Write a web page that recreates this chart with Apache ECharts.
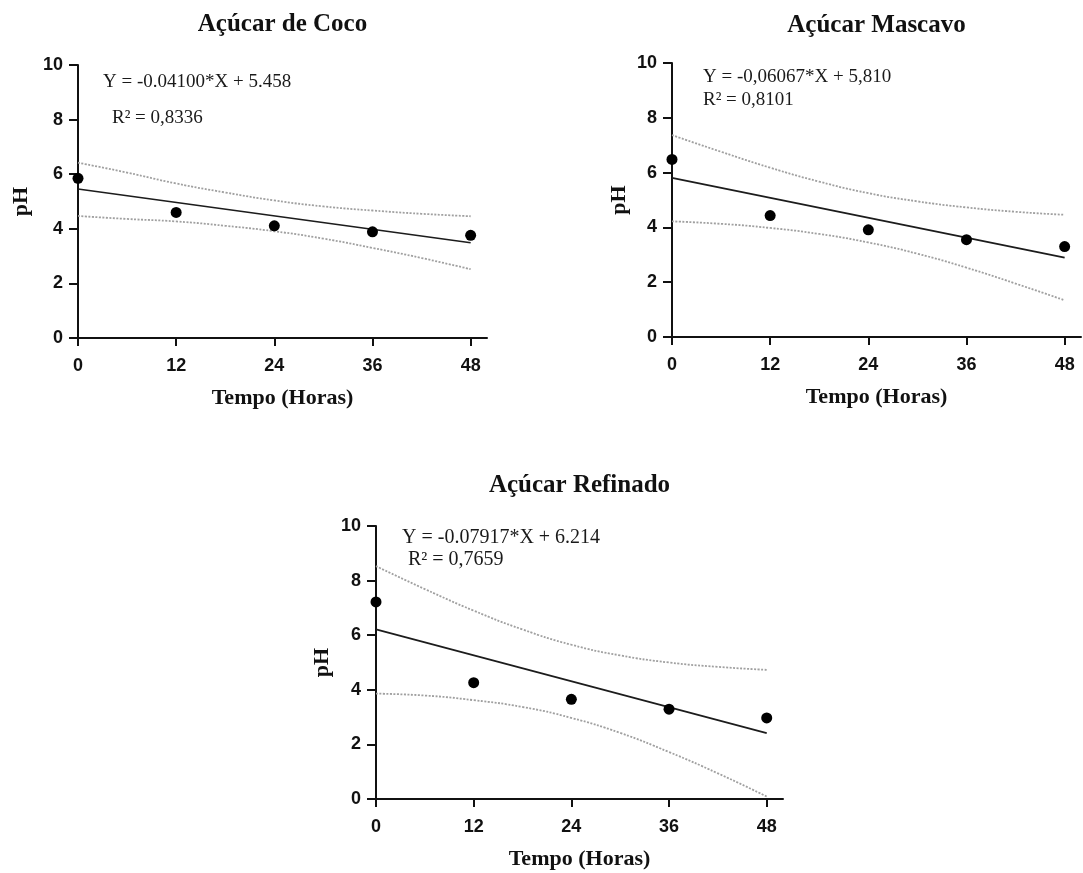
<!DOCTYPE html>
<html>
<head>
<meta charset="utf-8">
<title>pH ao longo do tempo</title>
<script src="https://cdn.jsdelivr.net/npm/echarts@6/dist/echarts.min.js"></script>
<style>
  html, body { margin: 0; padding: 0; background: #fff; }
  #chart { width: 1083px; height: 873px; }
</style>
</head>
<body>
<div id="chart"></div>
<script>
// Sampling times (hours) and axis ticks
const hours = [0, 12, 24, 36, 48];
const bandHours = [0, 6, 12, 18, 24, 30, 36, 42, 48];
const xTicks = [0, 12, 24, 36, 48];

// Mean pH per sugar type
const phCoco = [5.85, 4.60, 4.11, 3.89, 3.76];
const phMascavo = [6.48, 4.43, 3.91, 3.55, 3.30];
const phRefinado = [7.22, 4.26, 3.65, 3.29, 2.97];

// 95% confidence band of each regression, at bandHours
const upperCoco = [6.42, 6.06, 5.66, 5.33, 5.04, 4.82, 4.67, 4.55, 4.46];
const lowerCoco = [4.47, 4.36, 4.27, 4.11, 3.91, 3.64, 3.30, 2.93, 2.52];
const upperMascavo = [7.37, 6.76, 6.18, 5.67, 5.25, 4.95, 4.73, 4.57, 4.46];
const lowerMascavo = [4.22, 4.13, 3.98, 3.76, 3.45, 3.04, 2.53, 1.95, 1.34];
const upperRefinado = [8.53, 7.69, 6.90, 6.21, 5.65, 5.26, 5.00, 4.84, 4.73];
const lowerRefinado = [3.86, 3.79, 3.62, 3.37, 2.97, 2.42, 1.72, 0.94, 0.09];

// Linear fits (slope, intercept) and their printed equations
const fitSlopes = [-0.04100, -0.06067, -0.07917];
const fitIntercepts = [5.458, 5.810, 6.214];
const eqLabels = ['Y = -0.04100*X + 5.458', 'Y = -0,06067*X + 5,810', 'Y = -0.07917*X + 6.214'];
const r2Labels = ['R\u00B2 = 0,8336', 'R\u00B2 = 0,8101', 'R\u00B2 = 0,7659'];

const panelTitles = ['Açúcar de Coco', 'Açúcar Mascavo', 'Açúcar Refinado'];
const xAxisTitle = 'Tempo (Horas)';
const yAxisTitle = 'pH';

const phSets = [phCoco, phMascavo, phRefinado];
const upperSets = [upperCoco, upperMascavo, upperRefinado];
const lowerSets = [lowerCoco, lowerMascavo, lowerRefinado];

// Panel layout (pixels)
const grids = [
  { left: 78, top: 65, width: 409, height: 273 },
  { left: 672, top: 63, width: 409, height: 274 },
  { left: 376, top: 526, width: 407, height: 273 }
];
const titleY = [25, 26, 486];
const yNameGaps = [46, 42, 43];
const eqPos = [
  { eq: [103, 82], r2: [112, 118], size: 19 },
  { eq: [703, 77], r2: [703, 100], size: 19 },
  { eq: [402, 538], r2: [408, 560], size: 20 }
];

const SERIF = '"Liberation Serif", "Times New Roman", serif';
const SANS = '"Liberation Sans", Arial, sans-serif';
const INK = '#111';

const zip = (xs, ys) => xs.map((x, i) => [x, ys[i]]);

const xAxes = [], yAxes = [], series = [], graphics = [];

grids.forEach((g, i) => {
  xAxes.push({
    gridIndex: i, type: 'value', min: 0, max: 50,
    name: xAxisTitle, nameLocation: 'middle', nameGap: 49,
    nameTextStyle: { fontFamily: SERIF, fontWeight: 'bold', fontSize: 22, color: INK },
    axisLine: { show: true, onZero: false, lineStyle: { color: INK, width: 2 } },
    axisTick: { show: true, length: 8, customValues: xTicks, lineStyle: { color: INK, width: 2 } },
    axisLabel: { customValues: xTicks, margin: 19, fontFamily: SANS, fontWeight: 'bold', fontSize: 18, color: INK },
    splitLine: { show: false }
  });
  yAxes.push({
    gridIndex: i, type: 'value', min: 0, max: 10, interval: 2,
    name: yAxisTitle, nameLocation: 'middle', nameGap: yNameGaps[i],
    nameTextStyle: { fontFamily: SERIF, fontWeight: 'bold', fontSize: 22, color: INK },
    axisLine: { show: true, lineStyle: { color: INK, width: 2 } },
    axisTick: { show: true, length: 9, lineStyle: { color: INK, width: 2 } },
    axisLabel: { margin: 15, fontFamily: SANS, fontWeight: 'bold', fontSize: 18, color: INK },
    splitLine: { show: false }
  });

  const bandStyle = { color: '#a0a0a0', width: 1.8, type: [2, 1.5] };
  series.push({
    type: 'line', xAxisIndex: i, yAxisIndex: i, smooth: true, symbol: 'none',
    data: zip(bandHours, upperSets[i]), lineStyle: bandStyle, z: 1, silent: true
  });
  series.push({
    type: 'line', xAxisIndex: i, yAxisIndex: i, smooth: true, symbol: 'none',
    data: zip(bandHours, lowerSets[i]), lineStyle: bandStyle, z: 1, silent: true
  });
  const x0 = hours[0], x1 = hours[hours.length - 1];
  series.push({
    type: 'line', xAxisIndex: i, yAxisIndex: i, symbol: 'none',
    data: [[x0, fitIntercepts[i] + fitSlopes[i] * x0], [x1, fitIntercepts[i] + fitSlopes[i] * x1]],
    lineStyle: { color: '#1c1c1c', width: 1.7 }, z: 2, silent: true
  });
  series.push({
    type: 'scatter', xAxisIndex: i, yAxisIndex: i, symbol: 'circle', symbolSize: 11,
    data: zip(hours, phSets[i]), itemStyle: { color: '#000', opacity: 1 }, z: 3
  });

  const cx = g.left + g.width / 2;
  graphics.push({
    type: 'text', x: cx, y: titleY[i],
    style: { text: panelTitles[i], font: 'bold 25px ' + SERIF, fill: INK, align: 'center', verticalAlign: 'middle', textAlign: 'center', textVerticalAlign: 'middle' }
  });
  const p = eqPos[i];
  graphics.push({
    type: 'text', x: p.eq[0], y: p.eq[1],
    style: { text: eqLabels[i], font: p.size + 'px ' + SERIF, fill: '#1a1a1a', align: 'left', verticalAlign: 'middle', textAlign: 'left', textVerticalAlign: 'middle' }
  });
  graphics.push({
    type: 'text', x: p.r2[0], y: p.r2[1],
    style: { text: r2Labels[i], font: p.size + 'px ' + SERIF, fill: '#1a1a1a', align: 'left', verticalAlign: 'middle', textAlign: 'left', textVerticalAlign: 'middle' }
  });
});

const chart = echarts.init(document.getElementById('chart'), null, { renderer: 'canvas' });
chart.setOption({
  backgroundColor: '#fff',
  animation: false,
  grid: grids,
  xAxis: xAxes,
  yAxis: yAxes,
  series: series,
  graphic: graphics
});
</script>
</body>
</html>
